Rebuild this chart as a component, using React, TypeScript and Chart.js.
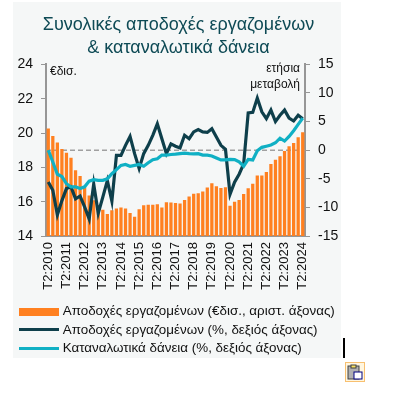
import React, { useEffect, useRef } from "react";
import { Chart, registerables } from "chart.js";

Chart.register(...registerables);

const TITLE = ["Συνολικές αποδοχές εργαζομένων", "& καταναλωτικά δάνεια"];
const LEFT_UNIT = "€δισ.";
const RIGHT_UNIT = ["ετήσια", "μεταβολή"];
const SERIES_NAMES = [
  "Αποδοχές εργαζομένων (€δισ., αριστ. άξονας)",
  "Αποδοχές εργαζομένων (%, δεξιός άξονας)",
  "Καταναλωτικά δάνεια (%, δεξιός άξονας)",
];

const START_YEAR = 2010;
const categories: string[] = [];
for (let i = 0; i < 57; i++) {
  const q = ((i + 1) % 4) + 1;
  const y = START_YEAR + Math.floor((i + 1) / 4);
  categories.push(`T${q}:${y}`);
}

const wages = [
  20.27, 19.83, 19.45, 19.07, 18.85, 18.56, 17.83, 17.5, 16.85, 16.37, 16.08, 15.8, 15.53, 15.28, 15.5, 15.6,
  15.67, 15.6, 15.35, 15.13, 15.57, 15.8, 15.82, 15.83, 15.85, 15.67, 15.97, 15.95, 15.93, 15.9, 16.1, 16.3,
  16.47, 16.5, 16.6, 16.83, 17.07, 16.9, 16.8, 16.85, 15.77, 16.0, 16.1, 16.45, 16.78, 17.05, 17.53, 17.53,
  17.73, 18.2, 18.45, 18.65, 18.96, 19.23, 19.42, 19.76, 20.05,
];
const wagesYoY = [
  -5.56, -7.0, -11.3, -8.8, -6.7, -6.4, -8.5, -8.0, -9.9, -12.0, -5.9, -11.0, -8.2, -5.3, -8.9, -0.9,
  -0.9, 0.85, 2.4, -0.6, -3.2, -0.6, 0.85, 2.6, 4.6, 2.0, -0.6, 1.1, 0.7, 0.4, 2.6, 2.0,
  3.2, 3.6, 3.2, 3.1, 3.75, 2.3, 0.85, 0.15, -7.7, -5.6, -4.2, -2.4, 6.5, 6.6, 9.1, 6.7,
  5.5, 7.0, 5.0, 6.1, 7.0, 5.6, 5.1, 6.1, 5.5,
];
const loansYoY = [
  0.0, -2.06, -4.2, -4.6, -5.85, -6.4, -6.4, -6.7, -6.4, -5.4, -5.15, -5.27, -5.27, -5.0, -4.1, -3.4,
  -2.65, -2.5, -2.8, -2.65, -2.5, -2.8, -2.2, -1.65, -1.5, -0.85, -0.85, -0.75, -0.7, -0.6, -0.5, -0.6,
  -0.65, -0.6, -0.85, -0.85, -1.0, -1.35, -1.7, -1.7, -1.6, -1.65, -2.05, -2.8, -1.6, -1.7, -0.1, 0.5,
  0.7, 0.9, 1.3, 2.1, 1.6, 2.4, 3.4, 4.5, 5.6,
];

const ORANGE = "#FF8020";
const DARK = "#0E3F4B";
const TEAL = "#10B0C4";
const AXIS = "#969696";
const FONT = "'Liberation Sans', Arial, sans-serif";

function swatch(color: string, h: number) {
  const c = document.createElement("canvas");
  c.width = 40;
  c.height = h;
  const g = c.getContext("2d")!;
  g.fillStyle = color;
  g.fillRect(0, 0, 40, h);
  return c;
}

export default function App() {
  const ref = useRef<HTMLCanvasElement>(null);
  useEffect(() => {
    document.body.style.margin = "0";
    const swatches = [swatch(ORANGE, 8), swatch(DARK, 3), swatch(TEAL, 3)];
    const extras = {
      id: "extras",
      beforeDatasetsDraw(chart: any) {
        const { ctx, chartArea, scales } = chart;
        const y = scales.y1.getPixelForValue(0);
        ctx.save();
        ctx.strokeStyle = "#A0A0A0";
        ctx.lineWidth = 1.5;
        ctx.setLineDash([5, 3]);
        ctx.beginPath();
        ctx.moveTo(chartArea.left, y);
        ctx.lineTo(chartArea.right, y);
        ctx.stroke();
        ctx.restore();
      },
      afterDraw(chart: any) {
        const { ctx, chartArea } = chart;
        ctx.save();
        ctx.fillStyle = "#111";
        ctx.font = `12px ${FONT}`;
        ctx.textBaseline = "middle";
        ctx.textAlign = "left";
        ctx.fillText(LEFT_UNIT, chartArea.left + 4, chartArea.top + 7);
        ctx.textAlign = "right";
        ctx.fillText(RIGHT_UNIT[0], chartArea.right - 5, chartArea.top + 4);
        ctx.fillText(RIGHT_UNIT[1], chartArea.right - 5, chartArea.top + 20);
        ctx.restore();
      },
    };
    const chart = new Chart(ref.current!, {
      type: "bar",
      data: {
        labels: categories,
        datasets: [
          { type: "bar", label: SERIES_NAMES[0], data: wages, yAxisID: "y", backgroundColor: ORANGE, barPercentage: 0.72, categoryPercentage: 1, order: 3 },
          { type: "line", label: SERIES_NAMES[1], data: wagesYoY, yAxisID: "y1", borderColor: DARK, borderWidth: 3.2, pointRadius: 0, tension: 0, order: 2 },
          { type: "line", label: SERIES_NAMES[2], data: loansYoY, yAxisID: "y1", borderColor: TEAL, borderWidth: 3.2, pointRadius: 0, tension: 0, order: 1 },
        ] as any,
      },
      options: {
        animation: false,
        responsive: false,
        devicePixelRatio: 1,
        layout: { padding: { top: 8, left: 3, right: 0, bottom: 2 } },
        plugins: {
          tooltip: { enabled: false },
          title: {
            display: true,
            text: TITLE,
            color: "#0E4A55",
            font: { family: FONT, size: 18, weight: "normal", lineHeight: 1.3 },
            padding: { top: 3, bottom: 4.5 },
          },
          legend: {
            position: "bottom",
            align: "start",
            labels: {
              color: "#111",
              font: { family: FONT, size: 13.4 },
              usePointStyle: true,
              pointStyleWidth: 35,
              padding: 5,
              boxHeight: 13,
              generateLabels: () =>
                SERIES_NAMES.map((text, i) => ({ text, datasetIndex: i, pointStyle: swatches[i], fontColor: "#111", fillStyle: "transparent", strokeStyle: "transparent", lineWidth: 0 })),
            },
          },
        },
        scales: {
          x: {
            offset: true,
            grid: { display: false, drawTicks: false },
            border: { color: AXIS, width: 2 },
            afterFit(s: any) { s.height += 4; },
            ticks: {
              autoSkip: false,
              maxRotation: 90,
              minRotation: 90,
              padding: 6,
              color: "#111",
              font: { family: FONT, size: 13 },
              callback(_v: any, i: number) {
                return i % 4 === 0 ? categories[i] : "";
              },
            },
          },
          y: {
            position: "left",
            min: 14,
            max: 24,
            afterFit(s: any) { s.width = 30; },
            border: { color: AXIS, width: 2 },
            grid: { drawOnChartArea: false, tickLength: 5, color: AXIS, tickColor: AXIS },
            ticks: { stepSize: 2, padding: 8, color: "#111", font: { family: FONT, size: 14 } },
          },
          y1: {
            position: "right",
            min: -15,
            max: 15,
            afterFit(s: any) { s.width = 36; },
            border: { color: AXIS, width: 2 },
            grid: { drawOnChartArea: false, tickLength: 5, color: AXIS, tickColor: AXIS },
            ticks: { stepSize: 5, padding: 8, color: "#111", font: { family: FONT, size: 14 } },
          },
        },
      } as any,
      plugins: [extras],
    });
    return () => chart.destroy();
  }, []);

  return (
    <div style={{ position: "absolute", left: 0, top: 0, width: 408, height: 415, background: "#fff" }}>
      <div style={{ position: "absolute", left: 13, top: 2, width: 328, height: 356, background: "#F5F7F7", overflow: "hidden" }}>
        <canvas ref={ref} width={328} height={365} style={{ display: "block" }} />
      </div>
      <div style={{ position: "absolute", left: 343, top: 338, width: 2, height: 20, background: "#000" }} />
      <svg style={{ position: "absolute", left: 345, top: 362 }} width={20} height={20}>
        <rect x={0.5} y={0.5} width={19} height={19} fill="#FFF6E0" stroke="#F8C070" />
        <rect x={3} y={4} width={11} height={13} fill="#B0B0B0" stroke="#404040" />
        <rect x={6} y={3} width={5} height={3} fill="#F8E060" stroke="#404040" />
        <rect x={9} y={10} width={8} height={7} fill="#FFF" stroke="#000080" />
      </svg>
    </div>
  );
}
